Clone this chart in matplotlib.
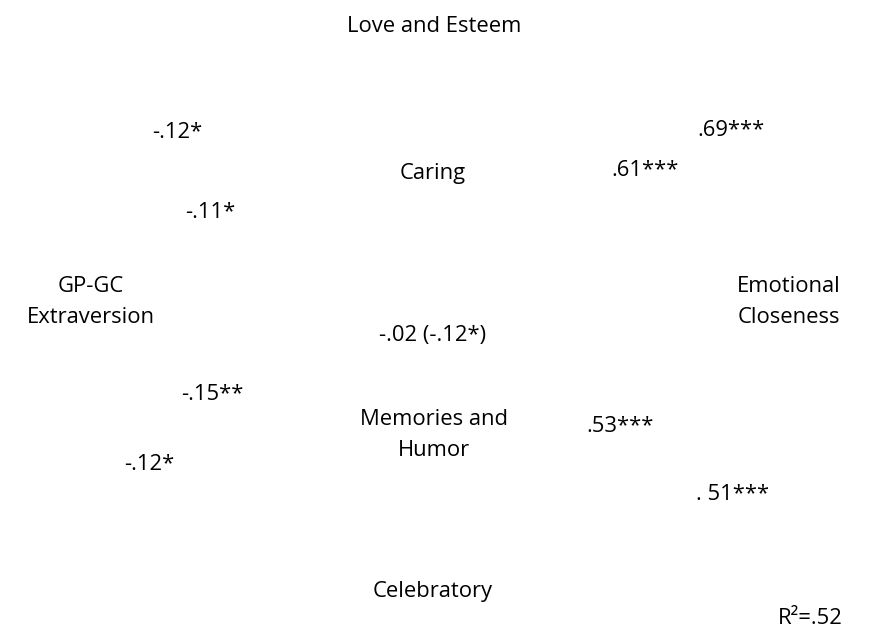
import matplotlib.pyplot as plt

plt.rcParams['font.family'] = ['Open Sans', 'DejaVu Sans']

# construct names (variables in the model)
nodes = ['Love and Esteem', 'Caring', 'GP-GC\nExtraversion', 'Emotional\nCloseness',
         'Memories and\nHumor', 'Celebratory']
# path coefficients
coefs = ['-.12*', '.69***', '.61***', '-.11*', '-.02 (-.12*)', '-.15**', '.53***',
         '-.12*', '. 51***']
r2_label = 'R\u00b2=.52'

# pixel positions (centre of each label)
node_xy = [(434, 26), (433, 173), (91, 302), (789, 302), (434, 435), (433, 592)]
coef_xy = [(177, 133), (731, 130), (645, 170), (210, 213), (433, 335), (212, 395),
           (620, 426), (149, 465), (733, 494)]
r2_xy = (810, 619)

W, H = 871, 631
fig = plt.figure(figsize=(W / 100, H / 100), dpi=100)
ax = fig.add_axes([0, 0, 1, 1])
ax.set_xlim(0, W)
ax.set_ylim(H, 0)
ax.axis('off')

fs = 15.8
for name, (x, y) in zip(nodes, node_xy):
    ax.text(x, y, name, ha='center', va='center', fontsize=fs, linespacing=1.65)
for c, (x, y) in zip(coefs, coef_xy):
    ax.text(x, y, c, ha='center', va='center', fontsize=fs)
ax.text(r2_xy[0], r2_xy[1], r2_label, ha='center', va='center', fontsize=fs)

fig.savefig('out.png', dpi=100)
